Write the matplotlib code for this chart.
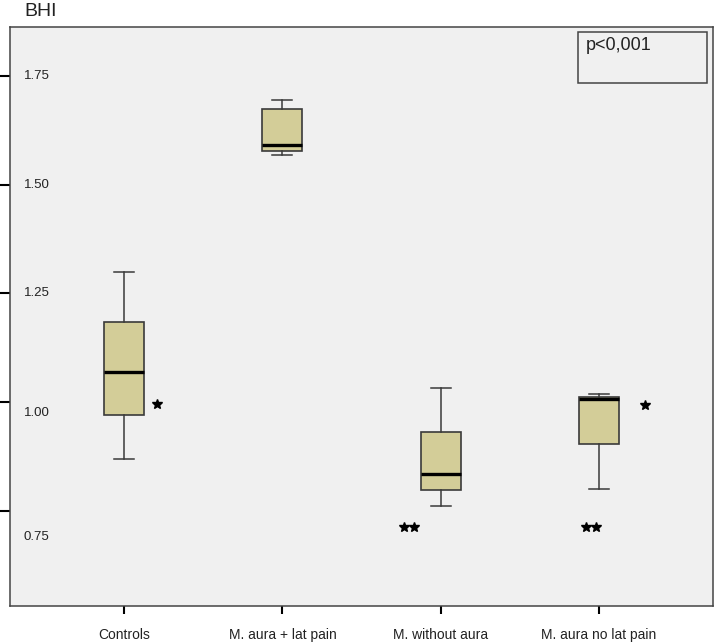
import matplotlib.pyplot as plt
from matplotlib.patches import Rectangle

# box statistics
groups = ['Controls', 'M. aura + lat pain', 'M. without aura', 'M. aura no lat pain']
whisker_low = [0.869, 1.568, 0.761, 0.801]
q1 = [0.970, 1.578, 0.797, 0.903]
median = [1.069, 1.592, 0.834, 1.008]
q3 = [1.184, 1.675, 0.931, 1.012]
whisker_high = [1.299, 1.695, 1.032, 1.018]

yticks = [0.75, 1.00, 1.25, 1.50, 1.75]
ytick_labels = ['0.75', '1.00', '1.25', '1.50', '1.75']
ylabel_drop = [26, 11, 0, 0, 0]  # the labels sit below their ticks in the original

# significance marks: group, x offset, y, count
star_group = [1, 4, 3, 4]
star_dx = [0.21, 0.29, -0.20, -0.05]
star_y = [0.995, 0.993, 0.712, 0.712]
star_n = [1, 1, 2, 2]

plt.rcParams['font.family'] = ['Liberation Sans', 'DejaVu Sans']

fig = plt.figure(figsize=(7.16, 6.42), dpi=100)
ax = fig.add_axes([10 / 716, 1 - 606 / 642, 703 / 716, 579 / 642])
ax.set_facecolor('#f0f0f0')

stats = []
for i in range(len(groups)):
    stats.append(dict(whislo=whisker_low[i], q1=q1[i], med=median[i], q3=q3[i],
                      whishi=whisker_high[i], fliers=[]))
pos = list(range(1, len(groups) + 1))
ax.bxp(stats, positions=pos, widths=0.253, capwidths=0.127, patch_artist=True,
       showfliers=False,
       boxprops=dict(facecolor='#d3cd98', edgecolor='#3a3a3a', linewidth=1.2),
       medianprops=dict(color='black', linewidth=2.4),
       whiskerprops=dict(color='#3a3a3a', linewidth=1.1),
       capprops=dict(color='#3a3a3a', linewidth=1.1))

ax.set_xlim(1 - 114 / 158, len(groups) + 114 / 158)
ax.set_ylim(0.531, 1.863)

for s in ax.spines.values():
    s.set_color('#444444')
    s.set_linewidth(1.1)

ax.set_xticks(pos)
ax.set_xticklabels(groups, fontsize=10, color='#222222')
ax.tick_params(axis='x', length=6, width=1.5, pad=10, color='black')
ax.set_yticks(yticks)
ax.set_yticklabels([''] * len(yticks))
ax.tick_params(axis='y', length=7.5, width=1.5, color='black')
for v, lbl, d in zip(yticks, ytick_labels, ylabel_drop):
    ax.annotate(lbl, xy=(0, v), xycoords=('axes fraction', 'data'),
                xytext=(14, -d), textcoords='offset pixels',
                ha='left', va='center', fontsize=9.5, color='#222222')

# stars
for g, dx, y, n in zip(star_group, star_dx, star_y, star_n):
    xs = [g + dx + (k - (n - 1) / 2) * 0.058 for k in range(n)]
    ax.plot(xs, [y] * n, ls='', marker='*', ms=7.5, color='black')

fig.text(24 / 716, 1 - 16 / 642, 'BHI', fontsize=14, ha='left', va='baseline',
         color='#222222')

ax.add_patch(Rectangle((0.808, 0.9033), 0.1835, 0.088, transform=ax.transAxes,
                       fill=False, edgecolor='#444444', linewidth=1.1))
ax.text(0.8193, 0.983, 'p<0,001', transform=ax.transAxes, fontsize=13,
        ha='left', va='top', color='#222222')

fig.savefig('out.png', dpi=100)
